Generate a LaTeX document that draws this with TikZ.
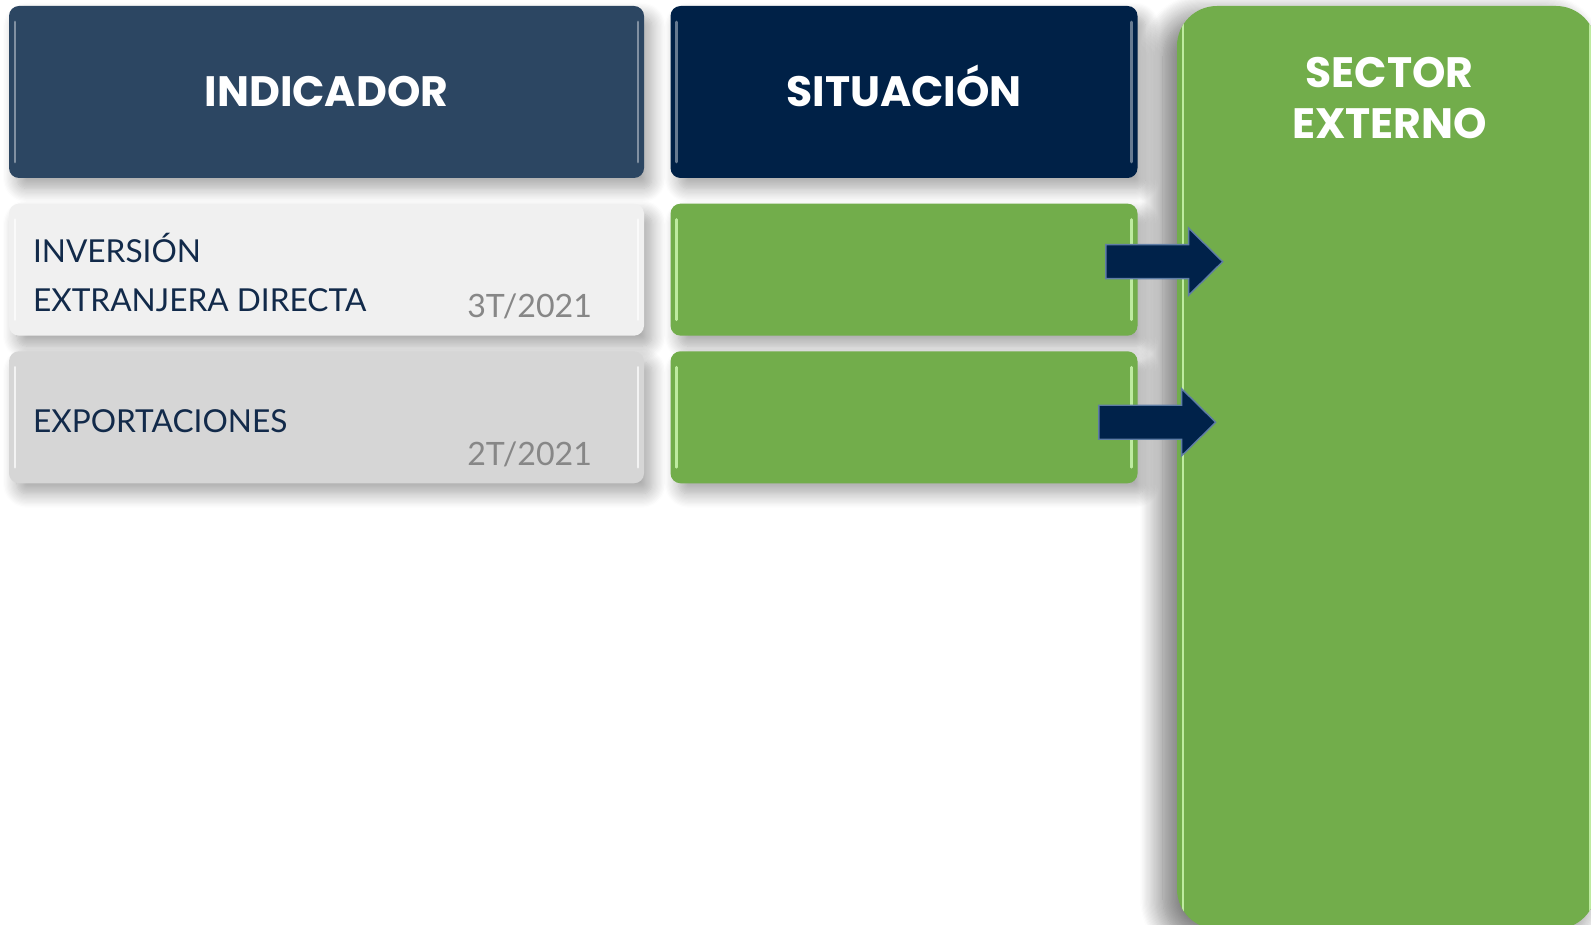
\documentclass[tikz,border=0pt]{standalone}
\usepackage{fontspec}
\setmainfont{Lato}
\newfontfamily\headfont{Poppins}
\usetikzlibrary{positioning,calc,shadows.blur}

\newcommand{\pxu}{0.02cm}
\definecolor{indblue}{RGB}{44,70,98}
\definecolor{sitnavy}{RGB}{0,33,71}
\definecolor{okgreen}{RGB}{114,173,75}
\definecolor{glossgreen}{RGB}{190,235,160}
\definecolor{rowlight}{RGB}{240,240,240}
\definecolor{rowgray}{RGB}{214,214,214}
\definecolor{txtnavy}{RGB}{18,42,74}
\definecolor{dategray}{RGB}{135,135,135}
\definecolor{arrownavy}{RGB}{0,34,74}
\definecolor{bevelblue}{RGB}{95,125,165}

\tikzset{
  box/.style={rectangle, rounded corners=10*\pxu, inner sep=0pt,
    blur shadow={shadow xshift=4.5pt, shadow yshift=-6pt, shadow blur radius=8pt, shadow blur steps=12, shadow opacity=35}},
  gloss/.style={path picture={
    \draw[#1, line width=1.6pt, line cap=round]
      ($(path picture bounding box.north west)+(6,16)$) -- ($(path picture bounding box.south west)+(6,-16)$)
      ($(path picture bounding box.north east)+(-6,16)$) -- ($(path picture bounding box.south east)+(-6,-16)$);}},
  headfnt/.style={font=\headfont\bfseries\fontsize{24.2}{30}\selectfont},
  headbox/.style={box, fill=#1, gloss=white!40!#1, text=white, headfnt,
    text height=17pt, text depth=0pt, minimum height=172*\pxu},
  rowbox/.style={box, fill=#1, gloss=white!70!#1, minimum height=132*\pxu, minimum width=635*\pxu},
  sitbox/.style={box, fill=okgreen, gloss=glossgreen, minimum height=132*\pxu, minimum width=467*\pxu},
  rowtxt/.style={text=txtnavy, font=\fontsize{18}{21}\selectfont, inner sep=0pt},
  datetxt/.style={text=dategray, font=\fontsize{18.3}{23}\selectfont, inner sep=0pt},
  fatarrow/.style={fill=arrownavy, draw=bevelblue, line width=0.8pt, line join=miter}
}

\begin{document}
\begin{tikzpicture}[x=0.02cm, y=-0.02cm]
  \useasboundingbox (0,0) rectangle (1591,925);
  \clip (0,0) rectangle (1591,925);

  % big column on the right
  \node[box, fill=okgreen, gloss=glossgreen, rounded corners=40*\pxu, minimum width=419*\pxu, minimum height=923*\pxu,
    blur shadow={shadow xshift=-8pt, shadow yshift=-6pt, shadow blur radius=13pt, shadow blur steps=20, shadow opacity=32}]
    (sector) at (1386.5,467.5) {};
  \node[text=white, headfnt, anchor=base] (sectortxt) at ($(sector.north)+(3,82)$) {SECTOR};
  \node[text=white, headfnt, anchor=base] (sectortxt2) at ($(sectortxt.base)+(0,51)$) {EXTERNO};

  % headers
  \node[headbox=indblue, minimum width=635*\pxu] (indicador) at (326.5,92) {INDICADOR};
  \node[headbox=sitnavy, minimum width=467*\pxu] (situacion) [right=14.7pt of indicador] {SITUACIÓN};

  % rows
  \node[rowbox=rowlight] (ied) [below=14.2pt of indicador] {};
  \node[rowbox=rowgray] (expo) [below=8.5pt of ied] {};
  \node[sitbox] (sit1) [below=14.2pt of situacion] {};
  \node[sitbox] (sit2) [below=8.5pt of sit1] {};

  \node[rowtxt, anchor=base west] (iedtxt) at ($(ied.north west)+(24,59)$) {INVERSIÓN};
  \node[rowtxt, anchor=base west] (iedtxt2) at ($(iedtxt.base west)+(0,49)$) {EXTRANJERA DIRECTA};
  \node[datetxt, anchor=base east] (ieddate) at ($(ied.north east)+(-52,114)$) {3T/2021};
  \node[rowtxt, anchor=base west] (expotxt) at ($(expo.north west)+(24,82)$) {EXPORTACIONES};
  \node[datetxt, anchor=base east] (expodate) at ($(expo.north east)+(-52,115)$) {2T/2021};

  % arrows into the column
  \coordinate (a1) at ($(sit1.east)+(-32,-8)$);
  \coordinate (b1) at (sector.west |- a1);
  \coordinate (b1) at ($(b1)+(46,0)$);
  \coordinate (a2) at ($(sit2.east)+(-39,5)$);
  \coordinate (b2) at (sector.west |- a2);
  \coordinate (b2) at ($(b2)+(39,0)$);
  \foreach \s in {1,2}
    \draw[fatarrow] ($(a\s)+(0,-17)$) -- ($(b\s)+(-34,-17)$) -- ($(b\s)+(-34,-33.5)$) -- (b\s)
      -- ($(b\s)+(-34,33.5)$) -- ($(b\s)+(-34,17)$) -- ($(a\s)+(0,17)$) -- cycle;
\end{tikzpicture}
\end{document}
